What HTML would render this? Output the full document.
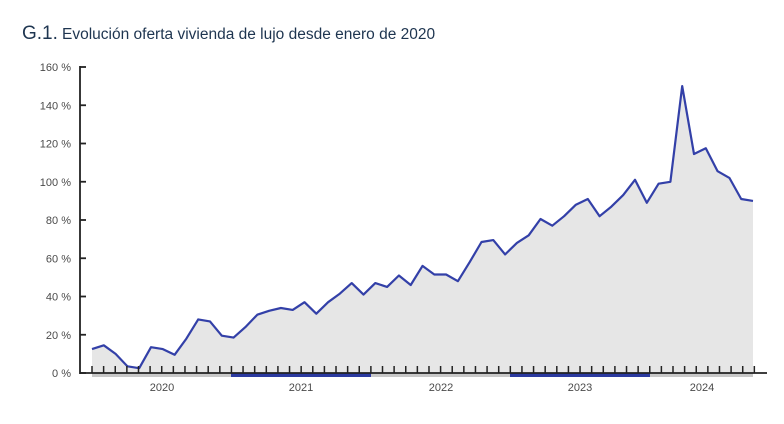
<!DOCTYPE html>
<html><head><meta charset="utf-8"><style>
body{margin:0;background:#fff;width:784px;height:419px;overflow:hidden;font-family:"Liberation Sans",sans-serif}
</style></head><body>
<svg id="s" width="784" height="419" xmlns="http://www.w3.org/2000/svg">
<text x="22" y="39" font-size="19" fill="#1e3550" font-family="Liberation Sans">G.1.</text>
<text x="62" y="39" font-size="15.5" fill="#1e3550" font-family="Liberation Sans">Evolución oferta vivienda de lujo desde enero de 2020</text>
<g id="g"></g>
</svg>
<script>
const v=[12.5,14.5,10,3.5,2.5,13.5,12.5,9.5,18,28,27,19.5,18.5,24,30.5,32.5,34,33,37,31,37,41.5,47,41,47,45,51,46,56,51.5,51.5,48,58,68.5,69.5,62,68,72,80.5,77,82,88,91,82,87,93,101,89,99,100,150,114.5,117.5,105.5,102,91,90];
const X=i=>92+i*(661/(v.length-1)), Y=p=>373-p*1.9125;
let pts=v.map((p,i)=>X(i).toFixed(1)+','+Y(p).toFixed(1)).join(' L');
let h='';
h+=`<path d="M92,373 L${pts} L753,373 Z" fill="#e6e6e6"/>`;
h+=`<rect x="92" y="373" width="661" height="4" fill="#c8c8c8"/>`;
h+=`<rect x="231" y="373" width="140" height="4" fill="#2b3aa0"/>`;
h+=`<rect x="510" y="373" width="140" height="4" fill="#2b3aa0"/>`;
h+=`<path d="M${pts}" fill="none" stroke="#3340a8" stroke-width="2.2" stroke-linejoin="round"/>`;
for(let i=0;i<=8;i++){let y=Y(i*20);h+=`<line x1="80" x2="86" y1="${y}" y2="${y}" stroke="#222" stroke-width="1.8"/><text x="71" y="${y+4}" text-anchor="end" font-size="11" fill="#4a4a4a">${i*20} %</text>`;}
h+=`<line x1="80" x2="80" y1="66" y2="374" stroke="#222" stroke-width="1.8"/>`;
h+=`<line x1="80" x2="767" y1="373" y2="373" stroke="#222" stroke-width="1.8"/>`;
for(let i=0;i<=57;i++){let x=92+i*11.62;if(x>756)break;h+=`<line x1="${x}" x2="${x}" y1="366" y2="373" stroke="#222" stroke-width="1.5"/>`;}
[[162,'2020'],[301,'2021'],[441,'2022'],[580,'2023'],[702,'2024']].forEach(([x,t])=>h+=`<text x="${x}" y="391" text-anchor="middle" font-size="11" fill="#4a4a4a">${t}</text>`);
document.getElementById('g').innerHTML=h;
</script>
</body></html>
